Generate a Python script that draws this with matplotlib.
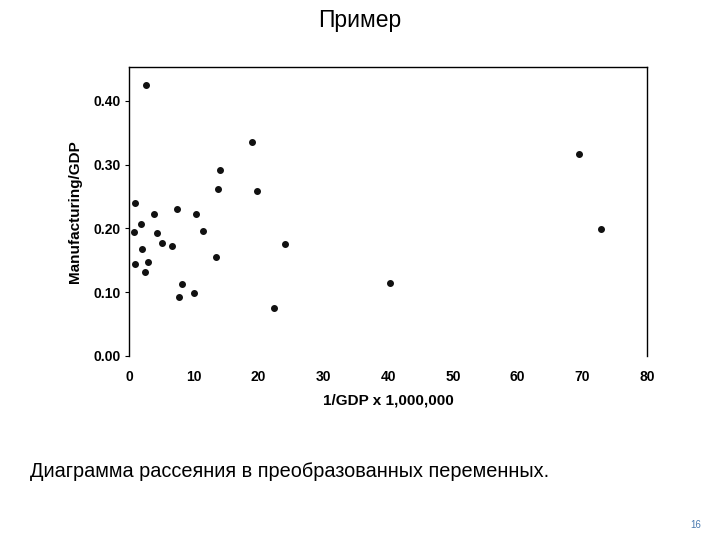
import matplotlib.pyplot as plt

# values
inv_gdp = [2.6, 1.0, 0.8, 1.8, 2.1, 1.0, 2.5, 3.0, 3.9, 4.4, 5.1, 6.6, 7.4,
           8.2, 7.7, 10.1, 10.3, 11.5, 13.4, 13.8, 14.1, 19.0, 19.7, 24.1,
           22.4, 69.5, 72.8, 40.3]
manuf_gdp = [0.425, 0.240, 0.194, 0.207, 0.167, 0.144, 0.132, 0.147, 0.222,
             0.193, 0.177, 0.173, 0.231, 0.112, 0.092, 0.098, 0.223, 0.196,
             0.155, 0.262, 0.292, 0.336, 0.259, 0.176, 0.075, 0.316, 0.199,
             0.115]
x_ticks = [0, 10, 20, 30, 40, 50, 60, 70, 80]
y_ticks = [0.0, 0.1, 0.2, 0.3, 0.4]

plt.rcParams['font.family'] = ['Liberation Sans', 'DejaVu Sans']

fig = plt.figure(figsize=(7.2, 5.4), dpi=100)
ax = fig.add_axes([0.179, 0.341, 0.720, 0.535])

ax.scatter(inv_gdp, manuf_gdp, s=16, color='#111111', zorder=3)

ax.set_xlim(0, 80)
ax.set_ylim(0, 0.453)
ax.set_xticks(x_ticks)
ax.set_yticks(y_ticks)
ax.set_xticklabels([str(t) for t in x_ticks], fontsize=10, fontweight='bold')
ax.set_yticklabels(['%.2f' % t for t in y_ticks], fontsize=10, fontweight='bold')
ax.tick_params(axis='x', length=0, pad=10)
ax.tick_params(axis='y', length=3, width=0.8, direction='out', pad=3)
ax.spines['bottom'].set_visible(False)
for s in ['left', 'top', 'right']:
    ax.spines[s].set_linewidth(1.0)

ax.set_xlabel('1/GDP x 1,000,000', fontsize=11, fontweight='bold', labelpad=7)
ax.set_ylabel('Manufacturing/GDP', fontsize=11, fontweight='bold', labelpad=8)

fig.text(0.5, 0.962, 'Пример', ha='center', va='center', fontsize=16.5)
fig.text(0.042, 0.126, 'Диаграмма рассеяния в преобразованных переменных.',
         ha='left', va='center', fontsize=14.3)
fig.text(0.967, 0.028, '16', ha='center', va='center', fontsize=7,
         color='#4a7ab0')

fig.savefig('out.png', dpi=100)
